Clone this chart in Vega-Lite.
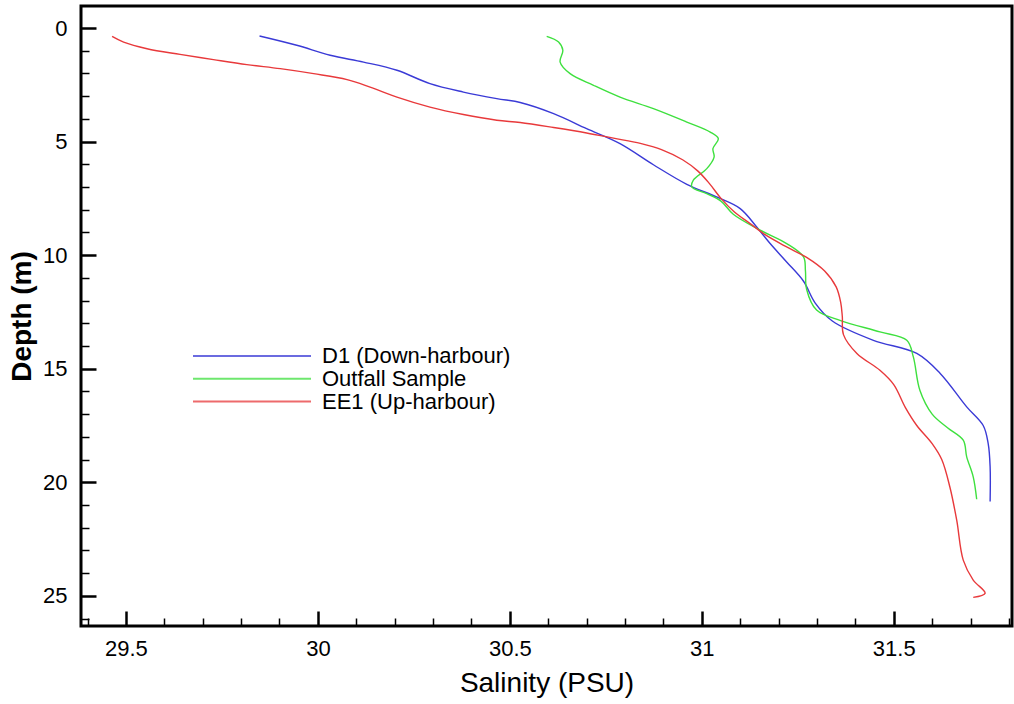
{
  "$schema": "https://vega.github.io/schema/vega-lite/v6.json",
  "width": 931,
  "height": 620,
  "autosize": "none",
  "padding": {"left": 81, "top": 6, "right": 2, "bottom": 78},
  "config": {
    "font": "Liberation Sans",
    "view": {"stroke": "black", "strokeWidth": 3},
    "axis": {"grid": false, "domain": false, "labelColor": "black", "titleColor": "black", "tickColor": "black"}
  },
  "resolve": {"axis": {"x": "independent", "y": "independent"}},
  "data": {"values": [
    {"series": "D1 (Down-harbour)", "salinity": 29.848, "depth": 0.35},
    {"series": "D1 (Down-harbour)", "salinity": 29.945, "depth": 0.76},
    {"series": "D1 (Down-harbour)", "salinity": 30.032, "depth": 1.20},
    {"series": "D1 (Down-harbour)", "salinity": 30.119, "depth": 1.50},
    {"series": "D1 (Down-harbour)", "salinity": 30.206, "depth": 1.86},
    {"series": "D1 (Down-harbour)", "salinity": 30.292, "depth": 2.45},
    {"series": "D1 (Down-harbour)", "salinity": 30.379, "depth": 2.82},
    {"series": "D1 (Down-harbour)", "salinity": 30.466, "depth": 3.11},
    {"series": "D1 (Down-harbour)", "salinity": 30.527, "depth": 3.28},
    {"series": "D1 (Down-harbour)", "salinity": 30.614, "depth": 3.77},
    {"series": "D1 (Down-harbour)", "salinity": 30.700, "depth": 4.43},
    {"series": "D1 (Down-harbour)", "salinity": 30.787, "depth": 5.09},
    {"series": "D1 (Down-harbour)", "salinity": 30.874, "depth": 6.02},
    {"series": "D1 (Down-harbour)", "salinity": 30.961, "depth": 6.88},
    {"series": "D1 (Down-harbour)", "salinity": 31.040, "depth": 7.45},
    {"series": "D1 (Down-harbour)", "salinity": 31.100, "depth": 7.95},
    {"series": "D1 (Down-harbour)", "salinity": 31.143, "depth": 8.76},
    {"series": "D1 (Down-harbour)", "salinity": 31.178, "depth": 9.49},
    {"series": "D1 (Down-harbour)", "salinity": 31.221, "depth": 10.30},
    {"series": "D1 (Down-harbour)", "salinity": 31.265, "depth": 11.15},
    {"series": "D1 (Down-harbour)", "salinity": 31.295, "depth": 12.10},
    {"series": "D1 (Down-harbour)", "salinity": 31.340, "depth": 12.90},
    {"series": "D1 (Down-harbour)", "salinity": 31.447, "depth": 13.75},
    {"series": "D1 (Down-harbour)", "salinity": 31.560, "depth": 14.33},
    {"series": "D1 (Down-harbour)", "salinity": 31.621, "depth": 15.21},
    {"series": "D1 (Down-harbour)", "salinity": 31.690, "depth": 16.68},
    {"series": "D1 (Down-harbour)", "salinity": 31.733, "depth": 17.50},
    {"series": "D1 (Down-harbour)", "salinity": 31.746, "depth": 18.30},
    {"series": "D1 (Down-harbour)", "salinity": 31.751, "depth": 19.32},
    {"series": "D1 (Down-harbour)", "salinity": 31.751, "depth": 20.85},
    {"series": "Outfall Sample", "salinity": 30.596, "depth": 0.37},
    {"series": "Outfall Sample", "salinity": 30.627, "depth": 0.62},
    {"series": "Outfall Sample", "salinity": 30.638, "depth": 0.98},
    {"series": "Outfall Sample", "salinity": 30.631, "depth": 1.50},
    {"series": "Outfall Sample", "salinity": 30.657, "depth": 2.01},
    {"series": "Outfall Sample", "salinity": 30.718, "depth": 2.52},
    {"series": "Outfall Sample", "salinity": 30.787, "depth": 3.04},
    {"series": "Outfall Sample", "salinity": 30.874, "depth": 3.55},
    {"series": "Outfall Sample", "salinity": 30.961, "depth": 4.14},
    {"series": "Outfall Sample", "salinity": 31.022, "depth": 4.58},
    {"series": "Outfall Sample", "salinity": 31.043, "depth": 4.87},
    {"series": "Outfall Sample", "salinity": 31.029, "depth": 5.31},
    {"series": "Outfall Sample", "salinity": 31.032, "depth": 5.68},
    {"series": "Outfall Sample", "salinity": 31.013, "depth": 6.19},
    {"series": "Outfall Sample", "salinity": 30.978, "depth": 6.70},
    {"series": "Outfall Sample", "salinity": 30.974, "depth": 7.00},
    {"series": "Outfall Sample", "salinity": 31.013, "depth": 7.29},
    {"series": "Outfall Sample", "salinity": 31.050, "depth": 7.62},
    {"series": "Outfall Sample", "salinity": 31.082, "depth": 8.20},
    {"series": "Outfall Sample", "salinity": 31.152, "depth": 8.90},
    {"series": "Outfall Sample", "salinity": 31.221, "depth": 9.49},
    {"series": "Outfall Sample", "salinity": 31.265, "depth": 10.08},
    {"series": "Outfall Sample", "salinity": 31.270, "depth": 10.70},
    {"series": "Outfall Sample", "salinity": 31.273, "depth": 11.50},
    {"series": "Outfall Sample", "salinity": 31.299, "depth": 12.42},
    {"series": "Outfall Sample", "salinity": 31.360, "depth": 12.87},
    {"series": "Outfall Sample", "salinity": 31.464, "depth": 13.38},
    {"series": "Outfall Sample", "salinity": 31.534, "depth": 13.75},
    {"series": "Outfall Sample", "salinity": 31.551, "depth": 14.48},
    {"series": "Outfall Sample", "salinity": 31.568, "depth": 15.95},
    {"series": "Outfall Sample", "salinity": 31.600, "depth": 17.00},
    {"series": "Outfall Sample", "salinity": 31.640, "depth": 17.60},
    {"series": "Outfall Sample", "salinity": 31.681, "depth": 18.15},
    {"series": "Outfall Sample", "salinity": 31.690, "depth": 18.88},
    {"series": "Outfall Sample", "salinity": 31.707, "depth": 19.76},
    {"series": "Outfall Sample", "salinity": 31.716, "depth": 20.75},
    {"series": "EE1 (Up-harbour)", "salinity": 29.464, "depth": 0.37},
    {"series": "EE1 (Up-harbour)", "salinity": 29.494, "depth": 0.62},
    {"series": "EE1 (Up-harbour)", "salinity": 29.555, "depth": 0.91},
    {"series": "EE1 (Up-harbour)", "salinity": 29.641, "depth": 1.16},
    {"series": "EE1 (Up-harbour)", "salinity": 29.728, "depth": 1.39},
    {"series": "EE1 (Up-harbour)", "salinity": 29.815, "depth": 1.61},
    {"series": "EE1 (Up-harbour)", "salinity": 29.902, "depth": 1.79},
    {"series": "EE1 (Up-harbour)", "salinity": 29.989, "depth": 2.01},
    {"series": "EE1 (Up-harbour)", "salinity": 30.076, "depth": 2.27},
    {"series": "EE1 (Up-harbour)", "salinity": 30.136, "depth": 2.60},
    {"series": "EE1 (Up-harbour)", "salinity": 30.206, "depth": 3.04},
    {"series": "EE1 (Up-harbour)", "salinity": 30.292, "depth": 3.48},
    {"series": "EE1 (Up-harbour)", "salinity": 30.379, "depth": 3.81},
    {"series": "EE1 (Up-harbour)", "salinity": 30.466, "depth": 4.06},
    {"series": "EE1 (Up-harbour)", "salinity": 30.527, "depth": 4.16},
    {"series": "EE1 (Up-harbour)", "salinity": 30.614, "depth": 4.38},
    {"series": "EE1 (Up-harbour)", "salinity": 30.700, "depth": 4.62},
    {"series": "EE1 (Up-harbour)", "salinity": 30.770, "depth": 4.85},
    {"series": "EE1 (Up-harbour)", "salinity": 30.840, "depth": 5.08},
    {"series": "EE1 (Up-harbour)", "salinity": 30.895, "depth": 5.35},
    {"series": "EE1 (Up-harbour)", "salinity": 30.950, "depth": 5.80},
    {"series": "EE1 (Up-harbour)", "salinity": 30.990, "depth": 6.30},
    {"series": "EE1 (Up-harbour)", "salinity": 31.020, "depth": 6.85},
    {"series": "EE1 (Up-harbour)", "salinity": 31.050, "depth": 7.50},
    {"series": "EE1 (Up-harbour)", "salinity": 31.085, "depth": 8.10},
    {"series": "EE1 (Up-harbour)", "salinity": 31.125, "depth": 8.60},
    {"series": "EE1 (Up-harbour)", "salinity": 31.165, "depth": 9.10},
    {"series": "EE1 (Up-harbour)", "salinity": 31.221, "depth": 9.64},
    {"series": "EE1 (Up-harbour)", "salinity": 31.273, "depth": 10.10},
    {"series": "EE1 (Up-harbour)", "salinity": 31.320, "depth": 10.70},
    {"series": "EE1 (Up-harbour)", "salinity": 31.350, "depth": 11.40},
    {"series": "EE1 (Up-harbour)", "salinity": 31.362, "depth": 12.10},
    {"series": "EE1 (Up-harbour)", "salinity": 31.366, "depth": 12.70},
    {"series": "EE1 (Up-harbour)", "salinity": 31.369, "depth": 13.50},
    {"series": "EE1 (Up-harbour)", "salinity": 31.404, "depth": 14.33},
    {"series": "EE1 (Up-harbour)", "salinity": 31.464, "depth": 15.07},
    {"series": "EE1 (Up-harbour)", "salinity": 31.500, "depth": 15.70},
    {"series": "EE1 (Up-harbour)", "salinity": 31.530, "depth": 16.70},
    {"series": "EE1 (Up-harbour)", "salinity": 31.560, "depth": 17.50},
    {"series": "EE1 (Up-harbour)", "salinity": 31.600, "depth": 18.30},
    {"series": "EE1 (Up-harbour)", "salinity": 31.625, "depth": 19.00},
    {"series": "EE1 (Up-harbour)", "salinity": 31.646, "depth": 20.20},
    {"series": "EE1 (Up-harbour)", "salinity": 31.664, "depth": 21.67},
    {"series": "EE1 (Up-harbour)", "salinity": 31.681, "depth": 23.43},
    {"series": "EE1 (Up-harbour)", "salinity": 31.707, "depth": 24.31},
    {"series": "EE1 (Up-harbour)", "salinity": 31.738, "depth": 24.89},
    {"series": "EE1 (Up-harbour)", "salinity": 31.707, "depth": 25.07}
  ]},
  "layer": [
    {
      "mark": {"type": "line", "interpolate": "catmull-rom", "strokeWidth": 1.4},
      "encoding": {
        "x": {
          "field": "salinity", "type": "quantitative",
          "scale": {"domain": [29.383, 31.808], "nice": false, "zero": false},
          "axis": {"orient": "bottom", "values": [29.5, 30, 30.5, 31, 31.5], "format": "~g", "ticks": false, "labelFontSize": 22, "labelPadding": 12, "labelFlush": false, "title": "Salinity (PSU)", "titleFontSize": 28, "titleFontWeight": "normal", "titlePadding": 10}
        },
        "y": {
          "field": "depth", "type": "quantitative",
          "scale": {"domain": [-0.97, 26.33], "reverse": true, "nice": false, "zero": false},
          "axis": {"orient": "left", "values": [0, 5, 10, 15, 20, 25], "format": "~g", "ticks": false, "labelFontSize": 22, "labelPadding": 14, "labelFlush": false, "title": "Depth (m)", "titleFontSize": 28, "titleFontWeight": "bold", "titlePadding": 6}
        },
        "color": {
          "field": "series", "type": "nominal",
          "scale": {"domain": ["D1 (Down-harbour)", "Outfall Sample", "EE1 (Up-harbour)"], "range": ["#3a3ad6", "#3ee03e", "#e8393b"]},
          "legend": {"orient": "none", "legendX": 111, "legendY": 339, "title": null, "padding": 0, "symbolType": "M-1,0H10.8", "symbolSize": 400, "symbolStrokeWidth": 2, "symbolOpacity": 0.75, "labelFontSize": 22, "labelLimit": 0, "labelOffset": 108, "rowPadding": 0.8, "labelColor": "black"}
        },
        "order": {"field": "depth", "type": "quantitative"}
      }
    },
    {
      "mark": {"type": "line", "opacity": 0},
      "encoding": {
        "x": {"field": "salinity", "type": "quantitative", "axis": {"orient": "bottom", "values": [29.5, 30, 30.5, 31, 31.5], "labels": false, "tickSize": -15, "tickWidth": 2.5, "title": null}},
        "y": {"field": "depth", "type": "quantitative", "axis": {"orient": "left", "values": [0, 5, 10, 15, 20, 25], "labels": false, "tickSize": -15, "tickWidth": 2.5, "title": null}}
      }
    },
    {
      "mark": {"type": "line", "opacity": 0},
      "encoding": {
        "x": {"field": "salinity", "type": "quantitative", "axis": {"orient": "bottom", "values": [29.4, 29.6, 29.7, 29.8, 29.9, 30.1, 30.2, 30.3, 30.4, 30.6, 30.7, 30.8, 30.9, 31.1, 31.2, 31.3, 31.4, 31.6, 31.7, 31.8], "labels": false, "tickSize": -8, "tickWidth": 1.5, "title": null}},
        "y": {"field": "depth", "type": "quantitative", "axis": {"orient": "left", "values": [1, 2, 3, 4, 6, 7, 8, 9, 11, 12, 13, 14, 16, 17, 18, 19, 21, 22, 23, 24, 26], "labels": false, "tickSize": -8, "tickWidth": 1.5, "title": null}}
      }
    }
  ]
}
